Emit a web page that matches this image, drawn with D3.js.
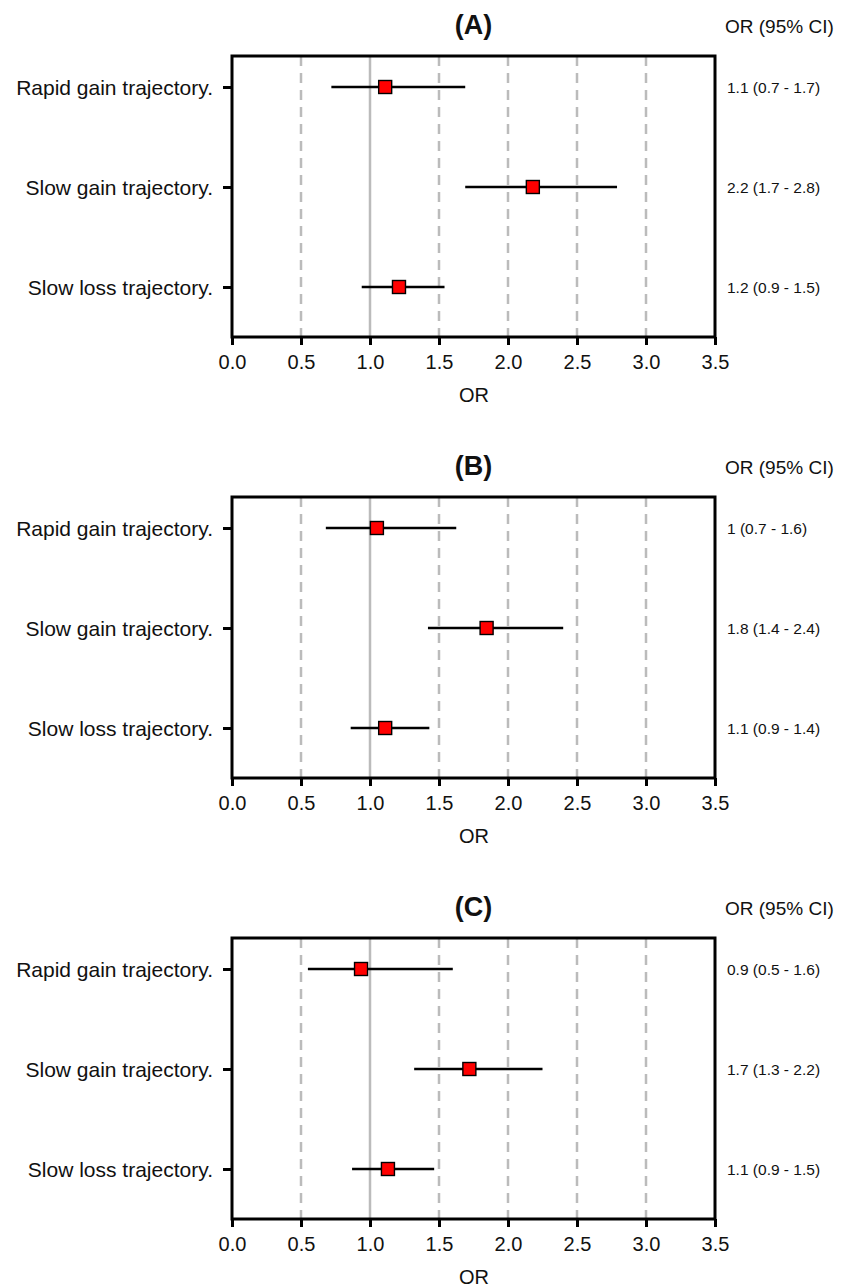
<!DOCTYPE html>
<html>
<head>
<meta charset="utf-8">
<script src="https://cdnjs.cloudflare.com/ajax/libs/d3/7.8.5/d3.min.js"></script>
<style>
  body { margin: 0; background: #fff; }
  svg text { font-family: "Liberation Sans", Arial, sans-serif; fill: #111; }
</style>
</head>
<body>
<div id="chart"></div>
<script>
// rows (trajectories), same in every panel
const rows = ['Rapid gain trajectory.', 'Slow gain trajectory.', 'Slow loss trajectory.']
const panelTitles = ['(A)', '(B)', '(C)']

// odds ratios and 95% CI
const orA = [1.11, 2.18, 1.21]
const lowA = [0.72, 1.69, 0.94]
const highA = [1.69, 2.79, 1.54]
const textA = ['1.1 (0.7 - 1.7)', '2.2 (1.7 - 2.8)', '1.2 (0.9 - 1.5)']

const orB = [1.05, 1.845, 1.11]
const lowB = [0.68, 1.42, 0.86]
const highB = [1.625, 2.40, 1.43]
const textB = ['1 (0.7 - 1.6)', '1.8 (1.4 - 2.4)', '1.1 (0.9 - 1.4)']

const orC = [0.935, 1.72, 1.13]
const lowC = [0.55, 1.32, 0.87]
const highC = [1.60, 2.25, 1.465]
const textC = ['0.9 (0.5 - 1.6)', '1.7 (1.3 - 2.2)', '1.1 (0.9 - 1.5)']

const xTicks = [0, 0.5, 1, 1.5, 2, 2.5, 3, 3.5]
const dashedRefs = [0.5, 1.5, 2, 2.5, 3]
const nullLine = 1

const panels = [
    { title: panelTitles[0], or: orA, low: lowA, high: highA, text: textA },
    { title: panelTitles[1], or: orB, low: lowB, high: highB, text: textB },
    { title: panelTitles[2], or: orC, low: lowC, high: highC, text: textC }
]

////////////////////////////////////
//////////// layout ////////////////
////////////////////////////////////

const svgWidth = 841
const svgHeight = 1287
const panelStep = 441

const box = { left: 232, right: 715, top: 56, bottom: 337 }

const svg = d3.select('#chart')
    .append('svg')
    .attr('width', svgWidth)
    .attr('height', svgHeight)

const x = d3.scaleLinear()
    .domain([0, 3.5])
    .range([box.left, box.right])

// row index -> vertical position
const y = d3.scaleLinear()
    .domain([-0.31, 2.5])
    .range([box.top, box.bottom])

const grey = '#bbbbbb'

panels.forEach((p, pi) => {

    const g = svg.append('g')
        .attr('transform', `translate(0,${pi * panelStep})`)

    // title and header
    g.append('text')
        .attr('x', (box.left + box.right) / 2)
        .attr('y', 34)
        .attr('text-anchor', 'middle')
        .attr('font-size', 27)
        .attr('font-weight', 'bold')
        .text(p.title)

    g.append('text')
        .attr('x', 725)
        .attr('y', 33)
        .attr('font-size', 19)
        .text('OR (95% CI)')

    // reference lines
    g.append('g')
        .selectAll('line')
        .data(dashedRefs)
        .join('line')
        .attr('x1', d => x(d))
        .attr('x2', d => x(d))
        .attr('y1', box.top)
        .attr('y2', box.bottom)
        .attr('stroke', grey)
        .attr('stroke-width', 2.5)
        .attr('stroke-dasharray', '10,7')

    g.append('line')
        .attr('x1', x(nullLine))
        .attr('x2', x(nullLine))
        .attr('y1', box.top)
        .attr('y2', box.bottom)
        .attr('stroke', grey)
        .attr('stroke-width', 2.5)

    // x axis
    const xAxis = g.append('g')
        .attr('transform', `translate(0,${box.bottom})`)
        .call(d3.axisBottom(x)
            .tickValues(xTicks)
            .tickFormat(d3.format('.1f'))
            .tickSizeInner(8)
            .tickSizeOuter(0))
    xAxis.select('.domain').remove()
    xAxis.selectAll('line').attr('stroke', '#000').attr('stroke-width', 3)
    xAxis.selectAll('text')
        .attr('y', 32)
        .attr('dy', 0)
        .attr('font-size', 20)
        .attr('fill', '#111')
        .style('font-family', '"Liberation Sans", Arial, sans-serif')

    g.append('text')
        .attr('x', 474)
        .attr('y', 402)
        .attr('text-anchor', 'middle')
        .attr('font-size', 20)
        .text('OR')

    // y axis with row names
    const yAxis = g.append('g')
        .attr('transform', `translate(${box.left},0)`)
        .call(d3.axisLeft(y)
            .tickValues([0, 1, 2])
            .tickFormat(i => rows[i])
            .tickSizeInner(9)
            .tickSizeOuter(0)
            .tickPadding(10))
    yAxis.select('.domain').remove()
    yAxis.selectAll('line').attr('stroke', '#000').attr('stroke-width', 3)
    yAxis.selectAll('text')
        .attr('dy', 7.5)
        .attr('font-size', 21)
        .attr('fill', '#111')
        .style('font-family', '"Liberation Sans", Arial, sans-serif')

    // plot box
    g.append('rect')
        .attr('x', box.left)
        .attr('y', box.top)
        .attr('width', box.right - box.left)
        .attr('height', box.bottom - box.top)
        .attr('fill', 'none')
        .attr('stroke', '#000')
        .attr('stroke-width', 3)

    // confidence intervals
    g.append('g')
        .selectAll('line')
        .data(rows.map((r, i) => i))
        .join('line')
        .attr('x1', i => x(p.low[i]))
        .attr('x2', i => x(p.high[i]))
        .attr('y1', i => y(i))
        .attr('y2', i => y(i))
        .attr('stroke', '#000')
        .attr('stroke-width', 2.7)

    // point estimates
    const s = 13
    g.append('g')
        .selectAll('rect')
        .data(rows.map((r, i) => i))
        .join('rect')
        .attr('x', i => x(p.or[i]) - s / 2)
        .attr('y', i => y(i) - s / 2)
        .attr('width', s)
        .attr('height', s)
        .attr('fill', '#ff0000')
        .attr('stroke', '#000')
        .attr('stroke-width', 1.4)

    // OR (95% CI) text column
    g.append('g')
        .selectAll('text')
        .data(p.text)
        .join('text')
        .attr('x', 727)
        .attr('y', (d, i) => y(i) + 5.5)
        .attr('font-size', 15.5)
        .text(d => d)
})
</script>
</body>
</html>
